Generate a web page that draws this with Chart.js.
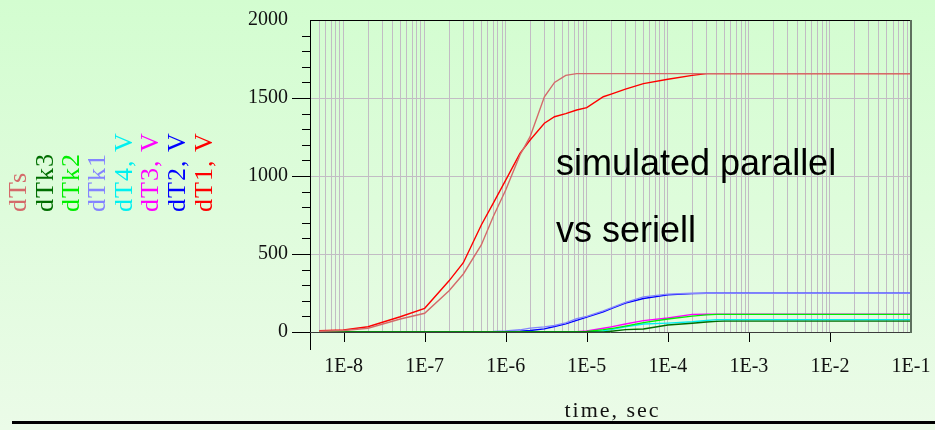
<!DOCTYPE html>
<html>
<head>
<meta charset="utf-8">
<script src="https://cdn.jsdelivr.net/npm/chart.js@4/dist/chart.umd.min.js"></script>
<style>
  html, body { margin: 0; padding: 0; }
  body {
    width: 935px;
    height: 430px;
    background: linear-gradient(#d3fdd0, #ebfbe8);
    overflow: hidden;
  }
  #wrap { position: relative; width: 935px; height: 430px; }
</style>
</head>
<body>
<div id="wrap"><canvas id="chart" width="935" height="430"></canvas></div>
<script>
// time points (sec), shared by all curves
let times = [5e-9, 1e-8, 2e-8, 5e-8, 1e-7, 2e-7, 3e-7, 5e-7, 7e-7, 1e-6, 1.5e-6, 2e-6, 3e-6, 4e-6, 5.5e-6, 7.5e-6,
  1e-5, 1.6e-5, 2e-5, 3e-5, 5e-5, 1e-4, 2e-4, 3e-4, 4e-4, 5e-4, 1e-3, 1e-2, 1e-1];

let dTs  = [5, 10, 24, 83, 120, 265, 372, 558, 739, 910, 1135, 1252, 1508, 1600, 1645, 1656,
  1656, 1656, 1656, 1656, 1656, 1656, 1656, 1656, 1656, 1656, 1656, 1656, 1656];
let dT1  = [8, 13, 34, 98, 152, 328, 444, 686, 825, 974, 1145, 1231, 1338, 1380, 1400, 1423,
  1438, 1508, 1525, 1557, 1592, 1620, 1645, 1656, 1656, 1656, 1656, 1656, 1656];
let dTk1 = [0, 0, 0, 0, 0, 0, 0, 2, 3, 6, 14, 25, 33, 42, 58, 85,
  100, 135, 155, 190, 225, 243, 248, 248, 248, 248, 248, 248, 248];
let dT2  = [0, 0, 0, 0, 0, 0, 0, 0, 0, 1, 5, 10, 20, 35, 52, 75,
  95, 130, 150, 186, 215, 238, 246, 248, 248, 248, 248, 248, 248];
let dT3  = [0, 0, 0, 0, 0, 0, 0, 0, 0, 0, 0, 0, 0, 0, 0, 2,
  6, 24, 33, 51, 73, 90, 113, 114, 114, 114, 114, 114, 114];
let dTk2 = [0, 0, 0, 0, 0, 0, 0, 0, 0, 0, 0, 0, 0, 0, 0, 0,
  3, 15, 22, 38, 60, 83, 102, 110, 113, 113, 113, 113, 113];
let dT4  = [0, 0, 0, 0, 0, 0, 0, 0, 0, 0, 0, 0, 0, 0, 0, 0,
  0, 8, 15, 34, 51, 57, 66, 74, 79, 79, 79, 79, 79];
let dTk3 = [0, 0, 0, 0, 0, 0, 0, 0, 0, 0, 0, 0, 0, 0, 0, 0,
  0, 0, 5, 15, 19, 45, 56, 64, 68, 70, 70, 70, 70];

// left to right as in the rotated legend
let seriesNames = ["dTs", "dTk3", "dTk2", "dTk1", "dT4, V", "dT3, V", "dT2, V", "dT1, V"];
let seriesData = [dTs, dTk3, dTk2, dTk1, dT4, dT3, dT2, dT1];
let seriesColors = ["#d46a6a", "#006e00", "#00ee00", "#8484ff", "#00f0f0", "#ff00ff", "#0000ff", "#ff0000"];

let yTicks = [0, 500, 1000, 1500, 2000];
let decades = [1e-8, 1e-7, 1e-6, 1e-5, 1e-4, 1e-3, 1e-2, 1e-1];
let annotation = ["simulated parallel", "vs seriell"];

function points(values) {
  return values.map((v, i) => ({ x: times[i], y: v }));
}

function logGridValues() {
  let vals = [];
  for (let e = -9; e <= -2; e++) {
    for (let s = 1; s <= 9; s++) {
      let v = Number((s + "e" + e));
      if (v >= 5e-9 && v <= 0.1) vals.push(v);
    }
  }
  vals.push(0.1);
  return vals;
}

function isDecade(v) {
  return decades.some(d => Math.abs(v / d - 1) < 1e-9);
}

const serif = "'Liberation Serif', 'Times New Roman', serif";

// frame, axis lines and tick marks
const framePlugin = {
  id: "frame",
  afterDatasetsDraw(chart) {
    const { ctx, chartArea: a, scales } = chart;
    const x = scales.x, y = scales.y;
    ctx.save();
    ctx.strokeStyle = "#000";
    ctx.lineWidth = 1;
    ctx.beginPath();
    ctx.moveTo(a.left, a.top + 0.5);
    ctx.lineTo(a.right, a.top + 0.5);
    ctx.moveTo(a.left + 0.5, a.top);
    ctx.lineTo(a.left + 0.5, a.bottom + 18);
    for (let v = 0; v < 2000; v += 100) {
      let py = Math.round(y.getPixelForValue(v)) + 0.5;
      let len = v % 500 === 0 ? 18 : 8;
      ctx.moveTo(a.left - len, py);
      ctx.lineTo(a.left, py);
    }
    decades.forEach(d => {
      if (d >= 0.1) return;
      let px = Math.round(x.getPixelForValue(d)) + 0.5;
      ctx.moveTo(px, a.bottom);
      ctx.lineTo(px, a.bottom + 10);
    });
    ctx.stroke();

    ctx.strokeStyle = "#3c3c3c";
    ctx.beginPath();
    ctx.moveTo(a.left, a.bottom + 0.5);
    ctx.lineTo(a.right, a.bottom + 0.5);
    ctx.stroke();

    ctx.strokeStyle = "#5e705e";
    ctx.lineWidth = 2;
    ctx.beginPath();
    ctx.moveTo(a.right, a.top);
    ctx.lineTo(a.right, a.bottom + 1);
    ctx.stroke();
    ctx.restore();
  }
};

// rotated legend, annotation, axis title and rule at the bottom
const textPlugin = {
  id: "texts",
  afterDraw(chart) {
    const { ctx, chartArea: a } = chart;
    ctx.save();
    let cols = [18, 45, 71, 97, 124, 150, 177, 204];
    ctx.font = "26px " + serif;
    ctx.textAlign = "left";
    ctx.textBaseline = "middle";
    chart.data.datasets.forEach((ds, i) => {
      ctx.save();
      ctx.translate(cols[i], 212);
      ctx.rotate(-Math.PI / 2);
      ctx.fillStyle = ds.borderColor;
      ctx.letterSpacing = "1px";
      ctx.fillText(ds.label, 0, 1);
      ctx.restore();
    });

    ctx.fillStyle = "#000";
    ctx.font = "36px 'Liberation Sans', Arial, sans-serif";
    ctx.textBaseline = "alphabetic";
    ctx.fillText(annotation[0], 556, 175);
    ctx.fillText(annotation[1], 556, 242);

    ctx.font = "22px " + serif;
    ctx.textAlign = "center";
    ctx.letterSpacing = "2px";
    ctx.fillStyle = "#111";
    ctx.fillText("time, sec", (a.left + a.right) / 2 + 2, 417);
    ctx.letterSpacing = "0px";

    ctx.fillStyle = "#000";
    ctx.fillRect(12, 421, 923, 3);
    ctx.restore();
  }
};

const chart = new Chart(document.getElementById("chart"), {
  type: "line",
  data: {
    datasets: seriesNames.map((name, i) => ({
      label: name,
      data: points(seriesData[i]),
      borderColor: seriesColors[i],
      backgroundColor: seriesColors[i],
      borderWidth: 1.4,
      pointRadius: 0,
      tension: 0,
      fill: false,
    })),
  },
  options: {
    responsive: false,
    animation: false,
    events: [],
    layout: { padding: { left: 0, right: 24, top: 20, bottom: 0 } },
    plugins: {
      legend: { display: false },
      title: { display: false },
      tooltip: { enabled: false },
    },
    scales: {
      x: {
        type: "logarithmic",
        min: 3.85e-9,
        max: 0.1,
        afterBuildTicks(scale) {
          scale.ticks = logGridValues().map(v => ({ value: v, major: isDecade(v) }));
        },
        afterFit(scale) {
          scale.height = 98;
          scale.paddingLeft = 0;
          scale.paddingRight = 0;
        },
        grid: { color: "#c2bcc4", lineWidth: 1, drawTicks: false },
        border: { display: false },
        ticks: {
          autoSkip: false,
          maxRotation: 0,
          padding: 23,
          color: "#111",
          font: { family: serif, size: 20 },
          callback(v) {
            if (!isDecade(v)) return "";
            return "1E" + Math.round(Math.log10(v));
          },
        },
      },
      y: {
        min: 0,
        max: 2000,
        afterBuildTicks(scale) {
          scale.ticks = yTicks.map(v => ({ value: v }));
        },
        afterFit(scale) {
          scale.width = 310;
          scale.paddingTop = 0;
          scale.paddingBottom = 0;
        },
        grid: { color: "#c2bcc4", lineWidth: 1, drawTicks: false },
        border: { display: false },
        ticks: {
          padding: 22,
          color: "#111",
          font: { family: serif, size: 20 },
          callback(v) { return String(v); },
        },
      },
    },
  },
  plugins: [framePlugin, textPlugin],
});
</script>
</body>
</html>
